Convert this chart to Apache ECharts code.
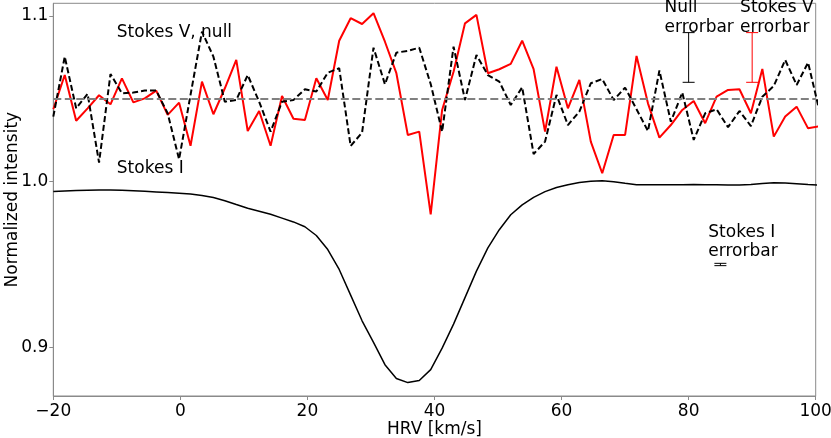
<!DOCTYPE html>
<html>
<head>
<meta charset="utf-8">
<title>Stokes profiles</title>
<script src="https://cdn.jsdelivr.net/npm/echarts@6/dist/echarts.min.js"></script>
<style>
    html, body { margin: 0; padding: 0; background: #fff; }
    #chart { width: 831px; height: 438px; }
</style>
</head>
<body>
<div id="chart"></div>
<script>
// velocity grid (km/s)
const velocity = [-20.0, -18.2, -16.4, -14.6, -12.8, -11.0, -9.2, -7.4, -5.6, -3.8,
    -2.0, -0.2, 1.6, 3.4, 5.2, 7.0, 8.8, 10.6, 12.4, 14.2,
    16.0, 17.8, 19.6, 21.4, 23.2, 25.0, 26.8, 28.6, 30.4, 32.2,
    34.0, 35.8, 37.6, 39.4, 41.2, 43.0, 44.8, 46.6, 48.4, 50.2,
    52.0, 53.8, 55.6, 57.4, 59.2, 61.0, 62.8, 64.6, 66.4, 68.2,
    70.0, 71.8, 73.6, 75.4, 77.2, 79.0, 80.8, 82.6, 84.4, 86.2,
    88.0, 89.8, 91.6, 93.4, 95.2, 97.0, 98.8, 100.6];

// Stokes I (solid black)
const stokesI = [0.9940, 0.9943, 0.9946, 0.9948, 0.9950, 0.9950, 0.9948, 0.9945, 0.9942, 0.9938,
    0.9934, 0.9930, 0.9925, 0.9916, 0.9904, 0.9885, 0.9862, 0.9840, 0.9822, 0.9803,
    0.9780, 0.9757, 0.9728, 0.9675, 0.9590, 0.9470, 0.9315, 0.9160, 0.9030, 0.8895,
    0.8812, 0.8787, 0.8800, 0.8865, 0.8995, 0.9140, 0.9300, 0.9460, 0.9600, 0.9710,
    0.9800, 0.9860, 0.9905, 0.9940, 0.9965, 0.9982, 0.9995, 1.0003, 1.0005, 1.0000,
    0.9990, 0.9982, 0.9981, 0.9982, 0.9982, 0.9982, 0.9983, 0.9982, 0.9981, 0.9980,
    0.9980, 0.9983, 0.9989, 0.9993, 0.9992, 0.9988, 0.9983, 0.9980];

// Stokes V, shifted to 1.05 (red)
const stokesV = [1.0437, 1.0644, 1.0368, 1.0443, 1.0522, 1.0467, 1.0624, 1.0479, 1.0503, 1.0550,
    1.0403, 1.0477, 1.0217, 1.0604, 1.0407, 1.0564, 1.0735, 1.0306, 1.0427, 1.0217,
    1.0517, 1.0380, 1.0373, 1.0624, 1.0493, 1.0851, 1.0987, 1.0952, 1.1017, 1.0845,
    1.0655, 1.0282, 1.0302, 0.9803, 1.0433, 1.0664, 1.0956, 1.1007, 1.0655, 1.0679,
    1.0711, 1.0851, 1.0679, 1.0302, 1.0694, 1.0443, 1.0614, 1.0242, 1.0051, 1.0282,
    1.0282, 1.0759, 1.0473, 1.0266, 1.0342, 1.0433, 1.0487, 1.0353, 1.0513, 1.0554,
    1.0558, 1.0413, 1.0681, 1.0272, 1.0393, 1.0453, 1.0322, 1.0335];

// null profile, shifted to 1.05 (dashed black)
const nullProfile = [1.0393, 1.0755, 1.0443, 1.0530, 1.0115, 1.0650, 1.0534, 1.0538, 1.0550, 1.0550,
    1.0413, 1.0135, 1.0524, 1.0906, 1.0755, 1.0483, 1.0493, 1.0644, 1.0483, 1.0302,
    1.0483, 1.0493, 1.0558, 1.0544, 1.0658, 1.0685, 1.0216, 1.0296, 1.0809, 1.0588,
    1.0779, 1.0790, 1.0809, 1.0590, 1.0302, 1.0815, 1.0493, 1.0765, 1.0644, 1.0604,
    1.0463, 1.0570, 1.0167, 1.0242, 1.0524, 1.0342, 1.0423, 1.0594, 1.0620, 1.0493,
    1.0568, 1.0437, 1.0306, 1.0671, 1.0362, 1.0538, 1.0252, 1.0413, 1.0437, 1.0329,
    1.0427, 1.0336, 1.0513, 1.0578, 1.0735, 1.0584, 1.0719, 1.0426];

const zeroLevel = 1.05;

// error bars: [x, low, high]
const nullErr = [[80, 1.060, 1.090]];
const vErr = [[90, 1.060, 1.090]];
const iErr = [[85, 0.9493, 0.9507]];

// annotations: text, x, baseline y
const annoText = ['Stokes V, null', 'Stokes I', 'Null\nerrorbar', 'Stokes V\nerrorbar', 'Stokes I\nerrorbar'];
const annoX = [-10, -10, 76.2, 88.1, 83.1];
const annoY = [1.0866, 1.0047, 1.0896, 1.0896, 0.9543];

const yTicks = [0.9, 1.0, 1.1];

const FONT = 'DejaVu Sans';
const chart = echarts.init(document.getElementById('chart'));

function errorBarItem(color) {
    return function (params, api) {
        const top = api.coord([api.value(0), api.value(2)]);
        const bot = api.coord([api.value(0), api.value(1)]);
        const cap = 6;
        const st = { stroke: color, lineWidth: 1 };
        return {
            type: 'group',
            children: [
                { type: 'line', shape: { x1: top[0], y1: top[1], x2: bot[0], y2: bot[1] }, style: st },
                { type: 'line', shape: { x1: top[0] - cap, y1: top[1], x2: top[0] + cap, y2: top[1] }, style: st },
                { type: 'line', shape: { x1: bot[0] - cap, y1: bot[1], x2: bot[0] + cap, y2: bot[1] }, style: st }
            ]
        };
    };
}

const option = {
    animation: false,
    backgroundColor: '#fff',
    textStyle: { fontFamily: FONT },
    grid: {
        left: 53.3, right: 15.3, top: 3.3, bottom: 42,
        outerBoundsMode: 'none',
        containLabel: false,
        show: true, borderColor: '#8a8a8a', borderWidth: 1, backgroundColor: 'transparent'
    },
    xAxis: {
        type: 'value',
        min: -20, max: 100, interval: 20,
        name: 'HRV [km/s]',
        nameLocation: 'middle',
        nameGap: 25,
        nameMoveOverlap: false,
        nameTextStyle: { fontSize: 17, color: '#000', fontFamily: FONT },
        axisLine: { show: true, onZero: false, lineStyle: { color: '#8a8a8a', width: 1 } },
        axisTick: { show: true, inside: false, length: 4, lineStyle: { color: '#8a8a8a' } },
        axisLabel: {
            fontSize: 17, color: '#000', margin: 7, fontFamily: FONT,
            formatter: v => String(v).replace('-', '\u2212')
        },
        splitLine: { show: false }
    },
    yAxis: {
        type: 'value',
        min: 0.8706, max: 1.1077,
        name: 'Normalized intensity',
        nameLocation: 'middle',
        nameGap: 32,
        nameMoveOverlap: false,
        nameTextStyle: { fontSize: 17, color: '#000', fontFamily: FONT },
        axisLine: { show: true, onZero: false, lineStyle: { color: '#8a8a8a', width: 1 } },
        axisTick: { show: true, inside: false, length: 4, customValues: yTicks, lineStyle: { color: '#8a8a8a' } },
        axisLabel: {
            fontSize: 17, color: '#000', margin: 5, fontFamily: FONT,
            customValues: yTicks,
            formatter: v => v.toFixed(1)
        },
        splitLine: { show: false }
    },
    series: [
        {
            name: 'Stokes I',
            type: 'line',
            data: velocity.map((v, i) => [v, stokesI[i]]),
            showSymbol: false,
            lineStyle: { color: '#000', width: 1.5 },
            z: 2
        },
        {
            name: 'Stokes V',
            type: 'line',
            data: velocity.map((v, i) => [v, stokesV[i]]),
            showSymbol: false,
            lineStyle: { color: '#ff0000', width: 2 },
            z: 3
        },
        {
            name: 'Null',
            type: 'line',
            data: velocity.map((v, i) => [v, nullProfile[i]]),
            showSymbol: false,
            lineStyle: { color: '#000', width: 2, type: [6, 3] },
            z: 4,
            markLine: {
                silent: true,
                symbol: 'none',
                label: { show: false },
                lineStyle: { color: '#808080', width: 2, type: [8, 3.5] },
                data: [{ yAxis: zeroLevel }]
            }
        },
        {
            name: 'null err',
            type: 'custom',
            data: nullErr,
            renderItem: errorBarItem('#000'),
            z: 5
        },
        {
            name: 'V err',
            type: 'custom',
            data: vErr,
            renderItem: errorBarItem('#ff0000'),
            z: 5
        },
        {
            name: 'I err',
            type: 'custom',
            data: iErr,
            renderItem: errorBarItem('#000'),
            z: 5
        },
        {
            name: 'labels',
            type: 'custom',
            data: annoX.map((x, i) => [x, annoY[i]]),
            renderItem: function (params, api) {
                const p = api.coord([api.value(0), api.value(1)]);
                return {
                    type: 'text',
                    x: p[0],
                    y: p[1] + 4,
                    style: {
                        text: annoText[params.dataIndex],
                        fill: '#000',
                        fontSize: 17,
                        fontFamily: FONT,
                        lineHeight: 19.5,
                        align: 'left',
                        verticalAlign: 'bottom'
                    }
                };
            },
            z: 6
        }
    ]
};

chart.setOption(option);
window.addEventListener('resize', function () {
    chart.resize();
});
</script>
</body>
</html>
